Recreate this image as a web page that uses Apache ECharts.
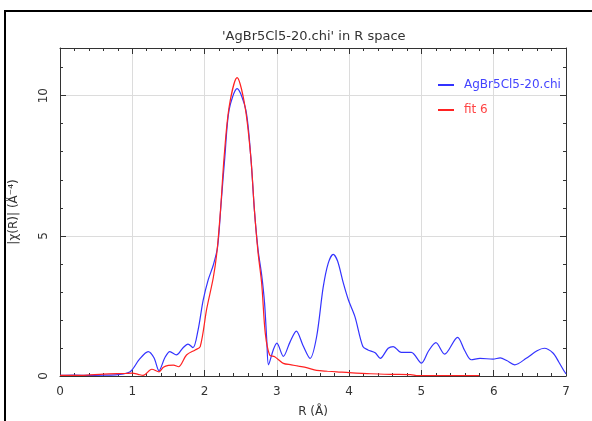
<!DOCTYPE html>
<html><head><meta charset="utf-8">
<script src="https://cdn.jsdelivr.net/npm/echarts@6/dist/echarts.min.js"></script>
<style>html,body{margin:0;padding:0;background:#fff}#c{width:592px;height:421px}</style>
</head><body><div id="c"></div>
<script>
const titleText = "'AgBr5Cl5-20.chi' in R space";
const seriesNames = ["AgBr5Cl5-20.chi", "fit 6"];
const xTicks = [0, 1, 2, 3, 4, 5, 6, 7];
const yTicks = [0, 5, 10];

const blueR = [0,0.2,0.4,0.6,0.8,0.97,1.1,1.22,1.3,1.37,1.45,1.52,1.61,1.7,1.77,1.84,1.91,1.98,2.05,2.12,2.18,2.23,2.28,2.34,2.45,2.57,2.64,2.69,2.74,2.79,2.83,2.86,2.885,2.95,3.0,3.09,3.18,3.27,3.36,3.46,3.55,3.64,3.71,3.78,3.84,3.92,3.99,4.08,4.19,4.26,4.36,4.43,4.54,4.61,4.72,4.86,5.0,5.1,5.2,5.32,5.5,5.6,5.69,5.81,5.99,6.09,6.18,6.29,6.45,6.6,6.7,6.82,6.9,6.98,7.0];
const blueV = [0.02,0.03,0.02,0.03,0.05,0.15,0.6,0.87,0.65,0.19,0.65,0.87,0.75,1.0,1.14,1.01,1.64,2.7,3.43,3.95,4.6,6.2,7.8,9.5,10.25,9.5,7.8,5.9,4.5,3.6,2.6,1.3,0.4,0.93,1.17,0.7,1.2,1.6,1.1,0.63,1.4,3.15,4.02,4.34,4.1,3.31,2.71,2.12,1.05,0.93,0.83,0.63,0.99,1.05,0.84,0.84,0.46,0.9,1.19,0.78,1.38,0.9,0.58,0.63,0.6,0.65,0.55,0.4,0.63,0.9,0.99,0.82,0.5,0.15,0.08];

const redR = [0,0.3,0.6,0.9,1.0,1.08,1.15,1.27,1.37,1.43,1.5,1.57,1.64,1.75,1.87,1.94,2.03,2.12,2.17,2.22,2.27,2.34,2.45,2.56,2.64,2.69,2.74,2.79,2.84,2.9,2.97,3.09,3.2,3.3,3.41,3.55,3.7,3.83,4.0,4.3,4.6,4.85,4.95,5.8];
const redV = [0.02,0.02,0.07,0.09,0.1,0.06,0.02,0.24,0.15,0.31,0.38,0.39,0.33,0.75,0.93,1.05,2.4,3.5,4.4,5.9,7.8,9.6,10.64,9.6,7.8,5.9,4.4,3.3,1.52,0.75,0.69,0.45,0.4,0.35,0.3,0.2,0.17,0.15,0.12,0.08,0.06,0.05,0.01,0.01];

const blueData = blueR.map((r, i) => [r, blueV[i]]);
const redData = redR.map((r, i) => [r, redV[i]]);

const FONT = "DejaVu Sans";
const chart = echarts.init(document.getElementById('c'));
chart.setOption({
  animation: false,
  backgroundColor: '#fff',
  graphic: [{type: 'rect', shape: {x: 5, y: 11, width: 620, height: 440}, style: {fill: 'none', stroke: '#000', lineWidth: 2}, silent: true}],
  title: {text: titleText, top: 30, left: 222, padding: 0, textStyle: {fontFamily: FONT, fontSize: 13, fontWeight: 'normal', color: '#333'}},
  legend: {
    orient: 'vertical', left: 433, top: 74, itemGap: 13, itemWidth: 16, itemHeight: 2,
    icon: 'rect',
    data: [
      {name: seriesNames[0], textStyle: {color: '#4444ff'}},
      {name: seriesNames[1], textStyle: {color: '#ff4444'}}
    ],
    textStyle: {fontFamily: FONT, fontSize: 12, padding: [0, 0, 0, 5]}
  },
  grid: {left: 60, right: 26, top: 48, bottom: 45, containLabel: false, outerBoundsMode: 'none'},
  xAxis: [{
    type: 'value', min: 0, max: 7, interval: 1,
    name: 'R (Å)', nameLocation: 'middle', nameGap: 30,
    nameTextStyle: {fontFamily: FONT, fontSize: 12, color: '#333'},
    axisLine: {onZero: false, lineStyle: {color: '#333'}},
    axisTick: {inside: true, length: 6, lineStyle: {color: '#333'}},
    minorTick: {show: true, splitNumber: 5, length: 3, lineStyle: {color: '#333'}},
    axisLabel: {fontFamily: FONT, fontSize: 12, color: '#333', margin: 10},
    splitLine: {show: true, lineStyle: {color: '#dcdcdc', width: 1}}
  }, {
    type: 'value', min: 0, max: 7, interval: 1, position: 'top',
    axisLine: {onZero: false, lineStyle: {color: '#333'}},
    axisTick: {inside: true, length: 6, lineStyle: {color: '#333'}},
    minorTick: {show: true, splitNumber: 5, length: 3, lineStyle: {color: '#333'}},
    axisLabel: {show: false}, splitLine: {show: false}
  }],
  yAxis: [{
    type: 'value', min: 0, max: 11.7, interval: 5,
    name: '|χ(R)| (Å⁻⁴)', nameLocation: 'middle', nameGap: 40,
    nameTextStyle: {fontFamily: FONT, fontSize: 12, color: '#333'},
    axisLine: {onZero: false, lineStyle: {color: '#333'}},
    axisTick: {inside: true, length: 6, lineStyle: {color: '#333'}},
    minorTick: {show: true, splitNumber: 5, length: 3, lineStyle: {color: '#333'}},
    axisLabel: {fontFamily: FONT, fontSize: 12, color: '#333', rotate: 90, margin: 10, showMaxLabel: false,
      formatter: v => yTicks.includes(v) ? String(v) : ''},
    splitLine: {show: true, lineStyle: {color: '#dcdcdc', width: 1}}
  }, {
    type: 'value', min: 0, max: 11.7, interval: 5, position: 'right',
    axisLine: {show: true, onZero: false, lineStyle: {color: '#333'}},
    axisTick: {show: true, inside: true, length: 6, lineStyle: {color: '#333'}},
    minorTick: {show: true, splitNumber: 5, length: 3, lineStyle: {color: '#333'}},
    axisLabel: {show: false}, splitLine: {show: false}
  }],
  series: [{
    name: seriesNames[0], type: 'line', data: blueData, symbol: 'none',
    smooth: 0.3, lineStyle: {color: '#3333ff', width: 1.2}, itemStyle: {color: '#3333ff'}, z: 3
  }, {
    name: seriesNames[1], type: 'line', data: redData, symbol: 'none',
    smooth: 0.3, lineStyle: {color: '#ff2222', width: 1.2}, itemStyle: {color: '#ff2222'}, z: 4
  }]
});
</script></body></html>
